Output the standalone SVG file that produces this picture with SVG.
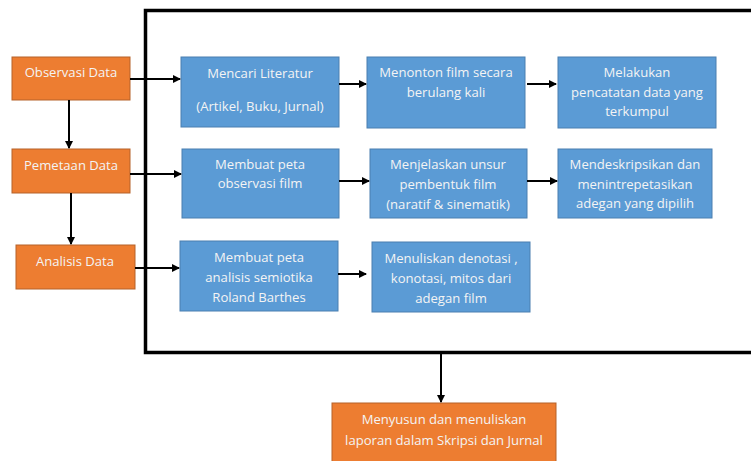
<svg xmlns="http://www.w3.org/2000/svg" width="751" height="461" viewBox="0 0 751 461">
<style>
.o{fill:#ed7d31;stroke:#b5622a;stroke-width:1}
.b{fill:#5b9bd5;stroke:#4a7fb0;stroke-width:1}
text{font-family:"Open Sans","Liberation Sans",sans-serif;font-size:13.1px;fill:#f4f4f4;text-anchor:middle}
.c{stroke:#000;stroke-width:2;fill:none}
</style>
<defs>
<marker id="a" markerWidth="8" markerHeight="8" refX="7" refY="4" orient="auto" markerUnits="userSpaceOnUse">
<path d="M0,0 L8,4 L0,8 z" fill="#000"/>
</marker>
</defs>
<rect x="0" y="0" width="751" height="461" fill="#fff"/>
<path d="M760,10.5 H145.5 V352.5 H760" fill="none" stroke="#000" stroke-width="3.5"/>
<g id="observasi"><rect class="o" x="12" y="57" width="118" height="43"/><text x="71" y="77">Observasi Data</text></g>
<g id="pemetaan"><rect class="o" x="12" y="149" width="118" height="44"/><text x="71" y="170">Pemetaan Data</text></g>
<g id="analisis"><rect class="o" x="16" y="245" width="119" height="44"/><text x="75" y="266">Analisis Data</text></g>
<g id="menyusun"><rect class="o" x="332" y="403" width="224" height="62"/><text x="444" y="424">Menyusun dan menuliskan</text><text x="444" y="445">laporan dalam Skripsi dan Jurnal</text></g>
<g id="mencari"><rect class="b" x="181" y="57" width="158" height="70"/><text x="260" y="78">Mencari Literatur</text><text x="260" y="111">(Artikel, Buku, Jurnal)</text></g>
<g id="menonton"><rect class="b" x="367" y="57" width="158" height="71"/><text x="446" y="77">Menonton film secara</text><text x="446" y="97">berulang kali</text></g>
<g id="melakukan"><rect class="b" x="558" y="57" width="158" height="71"/><text x="637" y="77">Melakukan</text><text x="637" y="97">pencatatan data yang</text><text x="637" y="116">terkumpul</text></g>
<g id="peta-observasi"><rect class="b" x="182" y="149" width="157" height="69"/><text x="260" y="169">Membuat peta</text><text x="260" y="188">observasi film</text></g>
<g id="menjelaskan"><rect class="b" x="370" y="149" width="157" height="69"/><text x="448" y="169">Menjelaskan unsur</text><text x="448" y="189">pembentuk film</text><text x="448" y="209">(naratif &amp; sinematik)</text></g>
<g id="mendeskripsikan"><rect class="b" x="558" y="149" width="154" height="69"/><text x="635" y="169">Mendeskripsikan dan</text><text x="635" y="189">menintrepetasikan</text><text x="635" y="208">adegan yang dipilih</text></g>
<g id="peta-analisis"><rect class="b" x="180" y="241" width="158" height="70"/><text x="259" y="262">Membuat peta</text><text x="259" y="282">analisis semiotika</text><text x="259" y="302">Roland Barthes</text></g>
<g id="menuliskan"><rect class="b" x="372" y="242" width="158" height="70"/><text x="451" y="263">Menuliskan denotasi ,</text><text x="451" y="283">konotasi, mitos dari</text><text x="451" y="303">adegan film</text></g>
<g id="connectors">
<line class="c" x1="130" y1="79" x2="180" y2="79" marker-end="url(#a)"/>
<line class="c" x1="339" y1="84" x2="366" y2="84" marker-end="url(#a)"/>
<line class="c" x1="527" y1="84" x2="556" y2="84" marker-end="url(#a)"/>
<line class="c" x1="69" y1="100" x2="69" y2="148" marker-end="url(#a)"/>
<line class="c" x1="130" y1="174" x2="181" y2="174" marker-end="url(#a)"/>
<line class="c" x1="339" y1="181" x2="369" y2="181" marker-end="url(#a)"/>
<line class="c" x1="527" y1="181" x2="557" y2="181" marker-end="url(#a)"/>
<line class="c" x1="71" y1="193" x2="71" y2="244" marker-end="url(#a)"/>
<line class="c" x1="135" y1="268" x2="179" y2="268" marker-end="url(#a)"/>
<line class="c" x1="338" y1="274" x2="366" y2="274" marker-end="url(#a)"/>
<line class="c" x1="441" y1="354" x2="441" y2="402" marker-end="url(#a)"/>
</g>
</svg>
